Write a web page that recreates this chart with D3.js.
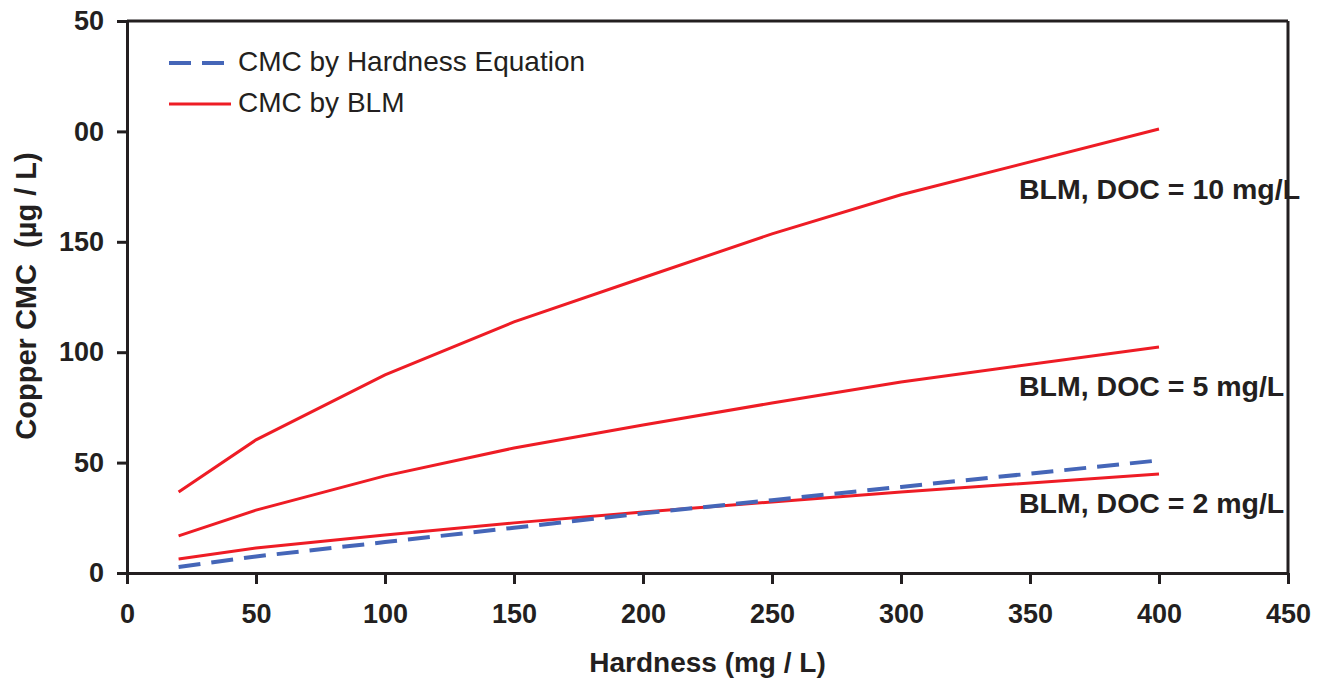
<!DOCTYPE html>
<html>
<head>
<meta charset="utf-8">
<script src="https://cdn.jsdelivr.net/npm/d3@7"></script>
<style>
  html, body { margin: 0; padding: 0; background: #ffffff; }
  svg { display: block; }
  text { font-family: "Liberation Sans", Arial, Helvetica, sans-serif; fill: #231f20; }
</style>
</head>
<body>
<svg id="chart" width="1324" height="679"></svg>
<script>
// Hardness (mg/L) at which the copper criteria were evaluated
const hardness = [20, 50, 100, 150, 200, 250, 300, 400];

// Copper CMC (µg/L) from the BLM at three DOC levels
const blmDoc10 = [36.7, 60.3, 89.7, 113.7, 133.7, 153.6, 171.3, 201.1];
const blmDoc5  = [16.8, 28.5, 44.0, 56.6, 67.0, 77.0, 86.5, 102.4];
const blmDoc2  = [6.3, 11.3, 17.2, 22.7, 27.6, 32.2, 36.7, 44.8];

// Copper CMC (µg/L) from the hardness-based equation
const hardnessEq = [2.7, 7.5, 14.0, 20.5, 27.0, 33.0, 39.0, 51.0];

// Axis ticks and their labels
const xTicks = [0, 50, 100, 150, 200, 250, 300, 350, 400, 450];
const yTicks = [0, 50, 100, 150, 200, 250];
const yTickLabels = ["0", "50", "100", "150", "00", "50"];

// Curve labels and legend entries
const curveLabels = ["BLM, DOC = 10 mg/L", "BLM, DOC = 5 mg/L", "BLM, DOC = 2 mg/L"];
const legendLabels = ["CMC by Hardness Equation", "CMC by BLM"];

const ink = "#231f20";
const red = "#ee1c25";
const blue = "#4566b8";

const svg = d3.select("#chart");
const plotLeft = 127, plotRight = 1288, plotTop = 21, plotBottom = 573;

const x = d3.scaleLinear().domain([0, 450]).range([plotLeft, plotRight]);
const y = d3.scaleLinear().domain([0, 250]).range([plotBottom, plotTop]);

// Frame: top and right borders
svg.append("line").attr("x1", plotLeft).attr("x2", plotRight).attr("y1", plotTop).attr("y2", plotTop)
  .attr("stroke", ink).attr("stroke-width", 3);
svg.append("line").attr("x1", plotRight).attr("x2", plotRight).attr("y1", plotTop).attr("y2", plotBottom)
  .attr("stroke", ink).attr("stroke-width", 3);

// X axis
const xAxis = svg.append("g")
  .attr("transform", `translate(0,${plotBottom})`)
  .call(d3.axisBottom(x).tickValues(xTicks).tickSize(11).tickSizeOuter(0).tickPadding(20)
        .tickFormat(d3.format("d")));

// Y axis
const yAxis = svg.append("g")
  .attr("transform", `translate(${plotLeft},0)`)
  .call(d3.axisLeft(y).tickValues(yTicks).tickSize(10).tickSizeOuter(0).tickPadding(13)
        .tickFormat((d, i) => yTickLabels[i]));

[xAxis, yAxis].forEach(g => {
  g.select(".domain").attr("stroke", ink).attr("stroke-width", 3);
  g.selectAll(".tick line").attr("stroke", ink).attr("stroke-width", 3);
  g.selectAll(".tick text")
    .attr("fill", ink)
    .style("font-family", '"Liberation Sans", Arial, sans-serif')
    .style("font-size", "27px")
    .style("font-weight", "bold");
});

// Axis titles
svg.append("text")
  .attr("x", (plotLeft + plotRight) / 2).attr("y", 672)
  .attr("text-anchor", "middle")
  .style("font-size", "28px").style("font-weight", "bold")
  .text("Hardness (mg / L)");

svg.append("text")
  .attr("transform", "translate(36,296) rotate(-90)")
  .attr("text-anchor", "middle")
  .style("font-size", "29px").style("font-weight", "bold")
  .style("white-space", "pre")
  .text("Copper CMC  (\u00b5g / L)");

// Curves
const line = d3.line().x((d, i) => x(hardness[i])).y(d => y(d));

[blmDoc10, blmDoc5, blmDoc2].forEach(series => {
  svg.append("path").datum(series)
    .attr("d", line)
    .attr("fill", "none")
    .attr("stroke", red)
    .attr("stroke-width", 3);
});

svg.append("path").datum(hardnessEq)
  .attr("d", line)
  .attr("fill", "none")
  .attr("stroke", blue)
  .attr("stroke-width", 4)
  .attr("stroke-dasharray", "22,11");

// Curve labels
const curveLabelY = [199, 396, 513];
curveLabels.forEach((t, i) => {
  svg.append("text")
    .attr("x", 1019).attr("y", curveLabelY[i])
    .style("font-size", "28.5px").style("font-weight", "bold")
    .text(t);
});

// Legend
const legend = svg.append("g");
legend.append("line").attr("x1", 169).attr("x2", 224).attr("y1", 63).attr("y2", 63)
  .attr("stroke", blue).attr("stroke-width", 4).attr("stroke-dasharray", "22,11");
legend.append("line").attr("x1", 169).attr("x2", 231).attr("y1", 104).attr("y2", 104)
  .attr("stroke", red).attr("stroke-width", 3);
legend.append("text").attr("x", 238).attr("y", 71)
  .style("font-size", "28px").text(legendLabels[0]);
legend.append("text").attr("x", 238).attr("y", 112)
  .style("font-size", "28px").text(legendLabels[1]);
</script>
</body>
</html>
